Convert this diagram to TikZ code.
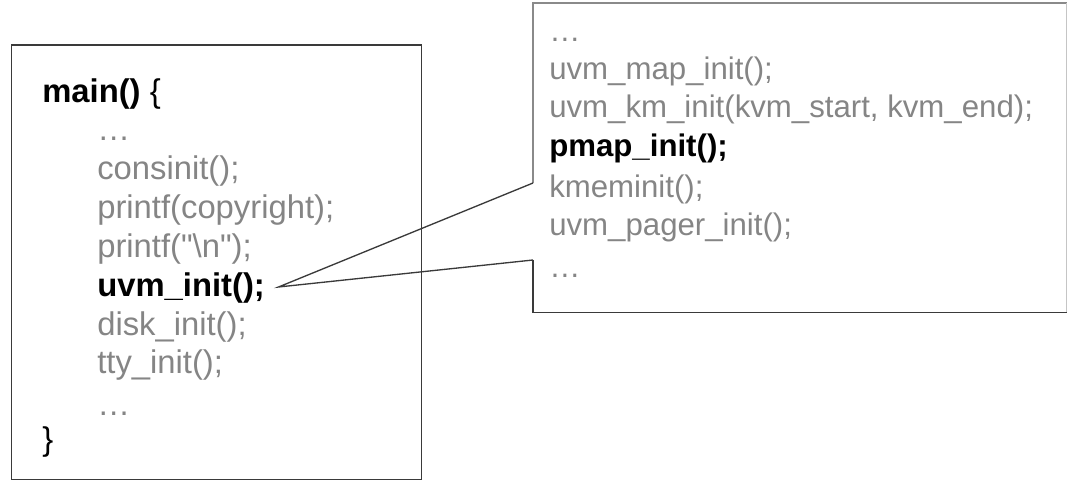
\documentclass[tikz,border=0pt]{standalone}
\usepackage{fontspec}
\setmainfont{Liberation Sans}
\definecolor{codegray}{HTML}{858585}
\definecolor{boxline}{HTML}{3A3A3A}
\definecolor{boxlight}{HTML}{8A8A8A}
\tikzset{
  ltxt/.style={anchor=base west, inner sep=0pt, font=\fontsize{24.6}{28}\selectfont, text=codegray},
  lbold/.style={ltxt, text=black, font=\fontsize{24.6}{28}\selectfont\bfseries},
  lblack/.style={ltxt, text=black},
  rtxt/.style={anchor=base west, inner sep=0pt, font=\fontsize{23.4}{28}\selectfont, text=codegray},
  rbold/.style={rtxt, text=black, font=\fontsize{23.4}{28}\selectfont\bfseries},
  frame/.style={draw=boxline, line width=1.1pt},
}
\begin{document}
\begin{tikzpicture}[x=0.75pt,y=-0.75pt]
\useasboundingbox (0,0) rectangle (1067,481);
% left box
\node[frame, rectangle, anchor=north west, minimum width=409.5*0.75pt, minimum height=434*0.75pt, inner sep=0pt] (lbox) at (11,44.5) {};
\node[lbold] (lmain) at (42,103) {main() {\mdseries\{}};
\node[ltxt] (l1) at (97,141) {…};
\node[ltxt] (l2) at (97,180) {consinit();};
\node[ltxt] (l3) at (97,218.5) {printf(copyright);};
\node[ltxt] (l4) at (97,257) {printf(\textquotedbl\textbackslash n\textquotedbl);};
\node[lbold] (l5) at (97,296) {uvm\_init();};
\node[ltxt] (l6) at (97,335) {disk\_init();};
\node[ltxt] (l7) at (97,373) {tty\_init();};
\node[ltxt] (l8) at (97,415) {…};
\node[lblack] (lend) at (42,450) {\}};
% right box (callout)
\node[rectangle, anchor=north west, minimum width=533*0.75pt, minimum height=309*0.75pt, inner sep=0pt] (rbox) at (533,3) {};
\coordinate (tip) at ([xshift=10pt,yshift=6.75pt]l5.base east);
\coordinate (ua) at ([yshift=-180*0.75pt]rbox.north west);
\coordinate (la) at ([yshift=-257*0.75pt]rbox.north west);
\draw[draw=boxlight, line width=1.1pt] (ua) -- (rbox.north west) -- (rbox.north east);
\draw[draw=boxlight!50, line width=1pt] (rbox.north east) -- (rbox.south east);
\draw[draw=boxline, line width=1.3pt] (rbox.south east) -- (rbox.south west) -- (la);
\draw[draw=boxline, line width=1pt, line join=miter] (la) -- (tip) -- (ua);
\node[rtxt] (r1) at (549,42) {…};
\node[rtxt] (r2) at (549,80) {uvm\_map\_init();};
\node[rtxt] (r3) at (549,118) {uvm\_km\_init(kvm\_start, kvm\_end);};
\node[rbold] (r4) at (549,157) {pmap\_init();};
\node[rtxt] (r5) at (549,197) {kmeminit();};
\node[rtxt] (r6) at (549,235) {uvm\_pager\_init();};
\node[rtxt] (r7) at (549,277) {…};
\end{tikzpicture}
\end{document}
